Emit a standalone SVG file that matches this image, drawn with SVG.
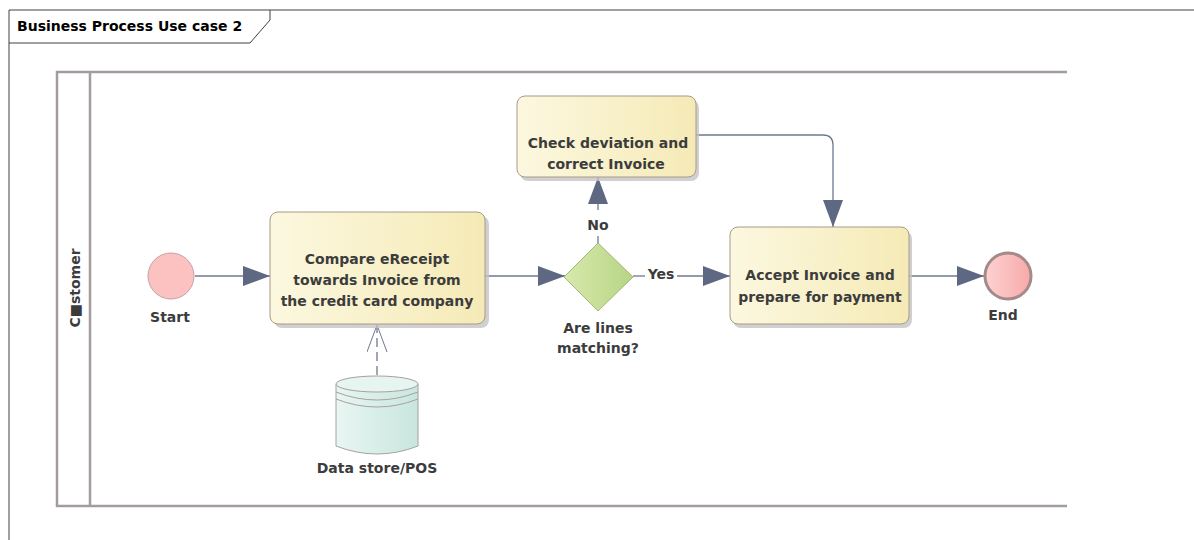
<svg xmlns="http://www.w3.org/2000/svg" width="1194" height="540" viewBox="0 0 1194 540">
<style>
  .lbl{font-family:"DejaVu Sans",Verdana,sans-serif;font-weight:bold;font-size:14px;fill:#3c3c3c;text-anchor:middle}
  .title{font-family:"DejaVu Sans",Verdana,sans-serif;font-weight:bold;font-size:14px;fill:#000}
  .pool{stroke:#a29c9c;stroke-width:2.5;fill:none}
  .act{fill:url(#actG);stroke:#a89a88;stroke-width:1}
  .shadow{fill:#c4c4c4;opacity:0.8}
  .conn{stroke:#6e7890;stroke-width:1.3;fill:none}
</style>
<defs>
  <linearGradient id="actG" x1="0" y1="0" x2="1" y2="0">
    <stop offset="0" stop-color="#fcf8e0"/>
    <stop offset="1" stop-color="#f5eab6"/>
  </linearGradient>
  <linearGradient id="gwG" x1="0" y1="0" x2="1" y2="0">
    <stop offset="0" stop-color="#d8e9ac"/>
    <stop offset="1" stop-color="#b6d584"/>
  </linearGradient>
  <linearGradient id="endG" x1="0" y1="0" x2="1" y2="0">
    <stop offset="0" stop-color="#fdd2d2"/>
    <stop offset="1" stop-color="#f8a9a9"/>
  </linearGradient>
  <linearGradient id="dsG" x1="0" y1="0" x2="1" y2="0">
    <stop offset="0" stop-color="#e8f6f2"/>
    <stop offset="1" stop-color="#c8e6de"/>
  </linearGradient>
  <marker id="arr" markerUnits="userSpaceOnUse" markerWidth="28" markerHeight="22" refX="27" refY="10" orient="auto">
    <path d="M0,0 L27,10 L0,20 Z" fill="#5f6882"/>
  </marker>
  <marker id="open" markerUnits="userSpaceOnUse" markerWidth="30" markerHeight="24" refX="27" refY="10" orient="auto">
    <path d="M0,0 L27,10 L0,20" fill="none" stroke="#6e7890" stroke-width="1"/>
  </marker>
</defs>
<rect width="1194" height="540" fill="#ffffff"/>

<g id="frame">
  <path d="M9,540 V10 H1194" fill="none" stroke="#404040" stroke-width="1"/>
  <path d="M9,43 H250 L270,20 V10" fill="none" stroke="#404040" stroke-width="1"/>
  <text class="title" x="17" y="31">Business Process Use case 2</text>
</g>

<g id="pool">
  <path class="pool" d="M1067,72 H57 V506 H1067"/>
  <line class="pool" x1="90" y1="72" x2="90" y2="506"/>
  <text class="lbl" transform="translate(80,288) rotate(-90)" style="fill:#3c3c3c">C■stomer</text>
</g>

<g id="connectors">
  <line class="conn" x1="195" y1="276" x2="270" y2="276" marker-end="url(#arr)"/>
  <line class="conn" x1="485" y1="276" x2="565" y2="276" marker-end="url(#arr)"/>
  <line class="conn" x1="633" y1="276" x2="645" y2="276"/>
  <line class="conn" x1="677" y1="276" x2="730" y2="276" marker-end="url(#arr)"/>
  <line class="conn" x1="598" y1="243" x2="598" y2="236"/>
  <line class="conn" x1="598" y1="210" x2="598" y2="177" marker-end="url(#arr)"/>
  <path class="conn" d="M696,135 H823 Q833,135 833,145 V227" marker-end="url(#arr)"/>
  <line class="conn" x1="909" y1="276" x2="984" y2="276" marker-end="url(#arr)"/>
  <line class="conn" x1="377" y1="375" x2="377" y2="325" stroke-dasharray="9,5" marker-end="url(#open)"/>
  <text class="lbl" x="661" y="279">Yes</text>
  <text class="lbl" x="598" y="230">No</text>
</g>

<g id="start">
  <circle cx="171" cy="276" r="23" fill="#fcc2c2" stroke="#c4a0a0" stroke-width="1"/>
  <text class="lbl" x="170" y="322">Start</text>
</g>

<g id="compare">
  <rect class="shadow" x="274" y="216" width="215" height="112" rx="8"/>
  <rect class="act" x="270" y="212" width="215" height="112" rx="8"/>
  <text class="lbl" x="377" y="264">Compare eReceipt</text>
  <text class="lbl" x="377" y="285">towards Invoice from</text>
  <text class="lbl" x="377" y="306">the credit card company</text>
</g>

<g id="datastore">
  <path d="M336,384 V446 Q377,462 418,446 V384" fill="url(#dsG)" stroke="#a8a0a0" stroke-width="1"/>
  <ellipse cx="377" cy="384" rx="41" ry="8" fill="#e6f5f0" stroke="#a8a0a0" stroke-width="1"/>
  <path d="M336,392 Q377,408 418,392" fill="none" stroke="#a8a0a0" stroke-width="1"/>
  <path d="M336,399 Q377,415 418,399" fill="none" stroke="#a8a0a0" stroke-width="1"/>
  <text class="lbl" x="377" y="473">Data store/POS</text>
</g>

<g id="gateway">
  <path d="M598,243 L633,277 L598,311 L564,277 Z" fill="url(#gwG)" stroke="#a4b67a" stroke-width="1"/>
  <text class="lbl" x="598" y="333">Are lines</text>
  <text class="lbl" x="598" y="353">matching?</text>
</g>

<g id="check">
  <rect class="shadow" x="520" y="100" width="179" height="81" rx="8"/>
  <rect class="act" x="517" y="96" width="179" height="81" rx="8"/>
  <text class="lbl" x="608" y="148">Check deviation and</text>
  <text class="lbl" x="606" y="169">correct Invoice</text>
</g>

<g id="accept">
  <rect class="shadow" x="733" y="231" width="179" height="97" rx="8"/>
  <rect class="act" x="730" y="227" width="179" height="97" rx="8"/>
  <text class="lbl" x="820" y="280">Accept Invoice and</text>
  <text class="lbl" x="820" y="302">prepare for payment</text>
</g>

<g id="end">
  <circle cx="1008" cy="276" r="23" fill="url(#endG)" stroke="#a48a8a" stroke-width="3"/>
  <text class="lbl" x="1003" y="320">End</text>
</g>
</svg>
